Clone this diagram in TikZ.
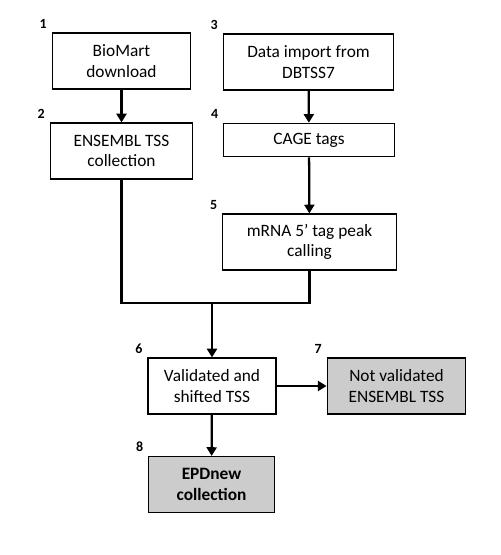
\documentclass[tikz,border=0pt]{standalone}
\usepackage{fontspec}
\setmainfont{Carlito}
\usetikzlibrary{arrows.meta,positioning}

\begin{document}
\begin{tikzpicture}[x=0.75pt,y=-0.75pt,font=\fontsize{13}{15.5}\selectfont]
            \tikzstyle{stepbox}=[draw,line width=0.9pt,align=center,inner sep=2pt,minimum height=42pt]
            \tikzstyle{greybox}=[stepbox,fill=black!20]
            \tikzstyle{numlbl}=[font=\fontsize{10.5}{12}\selectfont\bfseries,inner sep=1pt]
            \tikzstyle{flow}=[line width=1.7pt,-{Triangle[length=6.5pt,width=7.5pt]}]
            \tikzstyle{plain}=[line width=1.7pt]

            \useasboundingbox (0,0) rectangle (500,555);

            \node[stepbox,minimum width=104pt] (b1) at (121.5,61) {BioMart\\download};
            \node[stepbox,minimum width=107pt] (b2) at (121.5,151) {ENSEMBL TSS\\collection};
            \node[stepbox,minimum width=128pt] (b3) at (308.5,62) {Data import from\\DBTSS7};
            \node[stepbox,minimum width=128pt,minimum height=25pt] (b4) at (309,140) {CAGE tags};
            \node[stepbox,minimum width=130pt] (b5) at (309.5,242) {mRNA 5’ tag peak\\calling};
            \node[stepbox,minimum width=96pt] (b6) at (212,386) {Validated and\\shifted TSS};
            \node[greybox,minimum width=104pt] (b7) at (396.5,386) {Not validated\\ENSEMBL TSS};
            \node[greybox,minimum width=94pt,font=\fontsize{13}{15.5}\selectfont\bfseries] (b8) at (211.5,484.5) {EPDnew\\collection};

            % step numbers
            \foreach \name/\num in {b1/1, b2/2, b3/3, b4/4, b5/5, b6/6, b7/7, b8/8}
              \node[numlbl,anchor=south east] (n-\num) at ([xshift=-2.5pt,yshift=2pt]\name.north west) {\num};

            \coordinate (join) at (212,303);

            \draw[flow] (b1) -- (b2);
            \draw[flow] (b3) -- (b4);
            \draw[flow] (b4) -- (b5);
            \draw[plain] (b2.south) |- (join);
            \draw[plain] (b5.south) |- (join);
            \draw[flow] (join) -- (b6.north);
            \draw[flow] (b6) -- (b7);
            \draw[flow] (b6) -- (b8);
        \end{tikzpicture}
\end{document}
